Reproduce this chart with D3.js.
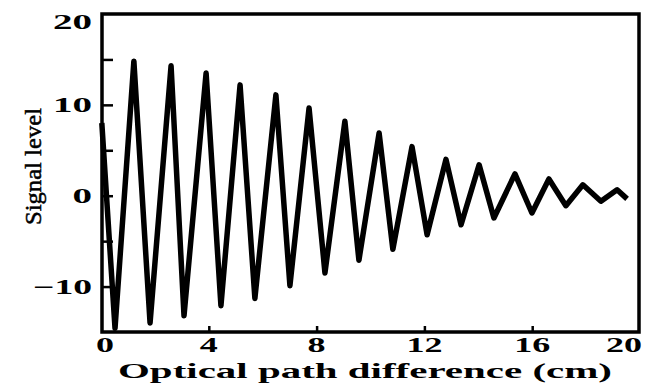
<!DOCTYPE html>
<html>
<head>
<meta charset="utf-8">
<script src="https://cdn.jsdelivr.net/npm/d3@7"></script>
<style>
  body { margin: 0; background: #fff; }
  text { font-family: "Liberation Serif", "DejaVu Serif", serif; fill: #000; }
</style>
</head>
<body>
<div id="chart-area"></div>
<script>
// path difference (cm) of each turning point of the interferogram
var pathDiff = [0.03, 0.52, 1.22, 1.82, 2.60, 3.08, 3.90, 4.45, 5.16, 5.71, 6.49, 7.01,
    7.72, 8.31, 9.05, 9.57, 10.32, 10.83, 11.54, 12.10, 12.80, 13.36, 14.03, 14.58,
    15.36, 15.99, 16.62, 17.25, 17.88, 18.55, 19.15, 19.52];
// signal level at those points
var signal = [8.0, -14.6, 14.8, -14.0, 14.3, -13.2, 13.5, -12.1, 12.2, -11.3, 11.1, -9.9,
    9.65, -8.5, 8.2, -7.1, 6.9, -5.9, 5.4, -4.3, 4.0, -3.2, 3.4, -2.45,
    2.4, -1.9, 1.85, -1.1, 1.2, -0.6, 0.65, -0.35];

var yTickLabels = [20, 10, 0, -10];
var yInnerTicks = [15, 10, 5, 0, -5, -10];
var xTickLabels = [0, 4, 8, 12, 16, 20];
var xInnerTicks = [4, 8, 12, 16];

var width = 660, height = 385;

var svg = d3.select("#chart-area")
    .append("svg")
        .attr("width", width)
        .attr("height", height);

var xScale = d3.scaleLinear().domain([0, 20]).range([101, 640]);
var yScale = d3.scaleLinear().domain([-15, 20]).range([332, 14]);

var data = pathDiff.map(function(d, i) {
    return { x: d, y: signal[i] };
});

// the signal trace
var line = d3.line()
    .x(function(d) { return xScale(d.x); })
    .y(function(d) { return yScale(d.y); });

svg.append("path")
    .attr("d", line(data))
    .attr("fill", "none")
    .attr("stroke", "#000")
    .attr("stroke-width", 5.5)
    .attr("stroke-linejoin", "round");

// frame
svg.append("rect")
    .attr("x", xScale(0) + 1)
    .attr("y", yScale(20))
    .attr("width", xScale(20) - xScale(0) - 2)
    .attr("height", yScale(-15) - yScale(20))
    .attr("fill", "none")
    .attr("stroke", "#000")
    .attr("stroke-width", 3.5);

// inner ticks on the left
svg.append("g")
    .attr("transform", "translate(" + (xScale(0) + 1) + ",0)")
    .call(d3.axisRight(yScale).tickValues(yInnerTicks).tickSize(11).tickFormat(""))
    .call(function(g) {
        g.select(".domain").remove();
        g.selectAll("line").attr("stroke-width", 2.5);
    });

// inner ticks on the bottom
svg.append("g")
    .attr("transform", "translate(0," + yScale(-15) + ")")
    .call(d3.axisTop(xScale).tickValues(xInnerTicks).tickSize(6).tickFormat(""))
    .call(function(g) {
        g.select(".domain").remove();
        g.selectAll("line").attr("stroke-width", 2.5);
    });

// y tick labels
svg.append("g")
    .selectAll("text")
    .data(yTickLabels)
    .enter()
    .append("text")
        .attr("x", 92)
        .attr("y", function(d) { return (d == 20 ? yScale(d) + 8 : yScale(d)) + 7; })
        .attr("text-anchor", "end")
        .attr("font-size", "21px")
        .attr("font-weight", "bold")
        .attr("textLength", function(d) { return d < 0 ? 59 : String(d).length * 19.5; })
        .attr("lengthAdjust", "spacingAndGlyphs")
        .text(function(d) { return d < 0 ? "\u2212" + (-d) : d; });

// x tick labels
svg.append("g")
    .selectAll("text")
    .data(xTickLabels)
    .enter()
    .append("text")
        .attr("x", function(d) { return d == 20 ? xScale(d) + 2 : d == 0 ? xScale(d) + 4 : xScale(d); })
        .attr("y", 352)
        .attr("text-anchor", function(d) { return d == 20 ? "end" : "middle"; })
        .attr("font-size", "20px")
        .attr("font-weight", "bold")
        .attr("textLength", function(d) { return String(d).length * 18; })
        .attr("lengthAdjust", "spacingAndGlyphs")
        .text(function(d) { return d; });

// axis titles
svg.append("text")
    .attr("x", 118)
    .attr("y", 378)
    .attr("font-size", "21px")
    .attr("font-weight", "bold")
    .attr("textLength", 494)
    .attr("lengthAdjust", "spacingAndGlyphs")
    .text("Optical path difference (cm)");

svg.append("text")
    .attr("transform", "translate(41,225) rotate(-90)")
    .attr("font-size", "24px")
    .attr("stroke", "#000")
    .attr("stroke-width", 0.5)
    .attr("textLength", 117)
    .attr("lengthAdjust", "spacingAndGlyphs")
    .text("Signal level");
</script>
</body>
</html>
